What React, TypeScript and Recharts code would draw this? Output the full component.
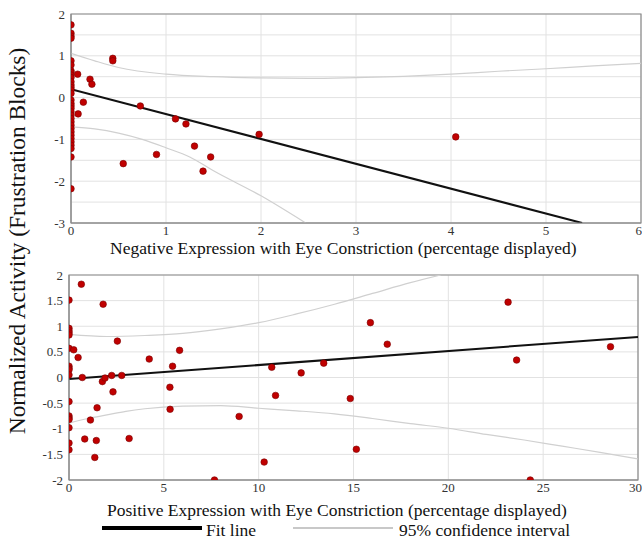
import {
  CartesianGrid,
  ComposedChart,
  Line,
  ReferenceArea,
  Scatter,
  XAxis,
  YAxis,
} from "recharts";

// top panel: negative expression
const negX = [
  0, 0, 0, 0, 0, 0, 0, 0, 0, 0, 0, 0, 0, 0, 0, 0, 0, 0, 0, 0, 0, 0, 0, 0, 0,
  0, 0, 0, 0, 0, 0, 0, 0, 0.07, 0.075, 0.13, 0.2, 0.22, 0.44, 0.44, 0.55,
  0.73, 0.9, 1.1, 1.21, 1.3, 1.39, 1.47, 1.98, 4.05,
];
const negY = [
  1.74, 1.54, 1.47, 1.42, 0.88, 0.78, 0.64, 0.6, 0.54, 0.48, 0.38, 0.3, 0.24,
  0.18, 0.1, -0.06, -0.14, -0.2, -0.26, -0.34, -0.42, -0.5, -0.58, -0.66,
  -0.74, -0.82, -0.9, -0.98, -1.06, -1.14, -1.22, -1.42, -2.18, 0.56, -0.39,
  -0.11, 0.44, 0.32, 0.94, 0.88, -1.58, -0.2, -1.36, -0.51, -0.63, -1.16,
  -1.76, -1.42, -0.88, -0.94,
];
const negFit = [
  { x: 0, y: 0.2 },
  { x: 5.38, y: -3 },
];
const negUpper = [
  { x: 0, y: 1.06 },
  { x: 0.25, y: 0.88 },
  { x: 0.5, y: 0.72 },
  { x: 1, y: 0.56 },
  { x: 1.5, y: 0.5 },
  { x: 2, y: 0.47 },
  { x: 2.5, y: 0.46 },
  { x: 3, y: 0.48 },
  { x: 3.5, y: 0.51 },
  { x: 4, y: 0.56 },
  { x: 4.5, y: 0.63 },
  { x: 5, y: 0.69 },
  { x: 5.5, y: 0.76 },
  { x: 6, y: 0.82 },
];
const negLower = [
  { x: 0, y: -0.7 },
  { x: 0.25, y: -0.75 },
  { x: 0.5, y: -0.85 },
  { x: 0.75, y: -1.0 },
  { x: 1, y: -1.2 },
  { x: 1.25, y: -1.42 },
  { x: 1.5, y: -1.75 },
  { x: 2, y: -2.35 },
  { x: 2.47, y: -3 },
];

// bottom panel: positive expression
const posX = [
  0, 0, 0, 0, 0, 0, 0, 0, 0, 0, 0, 0, 0, 0, 0, 0, 0, 0.65, 0.25, 0.48, 0.7,
  0.83, 1.13, 1.36, 1.44, 1.48, 1.8, 1.76, 1.9, 2.25, 2.32, 2.55, 2.78, 3.17,
  4.23, 5.32, 5.33, 5.46, 5.83, 7.67, 8.97, 10.29, 10.69, 10.89, 12.24, 13.43,
  14.83, 15.15, 15.89, 16.78, 23.15, 23.6, 24.32, 28.55,
];
const posY = [
  1.51, 0.96, 0.91, 0.87, 0.83, 0.57, 0.22, 0.18, 0.15, 0.05, -0.47, -0.75,
  -0.79, -0.82, -0.98, -1.28, -1.41, 1.82, 0.54, 0.39, 0.0, -1.2, -0.83,
  -1.56, -1.23, -0.59, 1.43, -0.08, -0.01, 0.04, -0.28, 0.71, 0.04, -1.19,
  0.36, -0.19, -0.62, 0.22, 0.53, -2.0, -0.76, -1.65, 0.2, -0.35, 0.09, 0.28,
  -0.41, -1.4, 1.07, 0.65, 1.47, 0.34, -2.0, 0.6,
];
const posFit = [
  { x: 0, y: -0.03 },
  { x: 30, y: 0.79 },
];
const posUpper = [
  { x: 0, y: 0.84 },
  { x: 2, y: 0.8 },
  { x: 4, y: 0.82 },
  { x: 6, y: 0.86 },
  { x: 8, y: 0.95 },
  { x: 10, y: 1.07 },
  { x: 12, y: 1.24 },
  { x: 14, y: 1.43 },
  { x: 16, y: 1.64 },
  { x: 18, y: 1.85 },
  { x: 19.6, y: 2.0 },
];
const posLower = [
  { x: 0, y: -0.89 },
  { x: 1, y: -0.8 },
  { x: 2, y: -0.73 },
  { x: 3, y: -0.66 },
  { x: 4, y: -0.61 },
  { x: 6, y: -0.56 },
  { x: 8, y: -0.55 },
  { x: 10, y: -0.6 },
  { x: 12, y: -0.65 },
  { x: 14, y: -0.71 },
  { x: 16, y: -0.8 },
  { x: 18, y: -0.9 },
  { x: 20, y: -0.99 },
  { x: 22, y: -1.11 },
  { x: 24, y: -1.22 },
  { x: 26, y: -1.34 },
  { x: 28, y: -1.46 },
  { x: 30, y: -1.59 },
];

const negXTicks = [0, 1, 2, 3, 4, 5, 6];
const negYTicks = [-3, -2.5, -2, -1.5, -1, -0.5, 0, 0.5, 1, 1.5, 2];
const posXTicks = [0, 5, 10, 15, 20, 25, 30];
const posYTicks = [-2, -1.5, -1, -0.5, 0, 0.5, 1, 1.5, 2];

const font = "'Liberation Serif', 'Times New Roman', serif";
const tickStyle = { fontSize: 13, fill: "#333", fontFamily: font };
const ciColor = "#d0d0d0";
const boxColor = "#8a8a8a";

function Dot(props: any) {
  const { cx, cy } = props;
  if (cx == null || cy == null) return null;
  return <circle cx={cx} cy={cy} r={3.3} fill="#c00000" stroke="#7a0000" strokeWidth={0.6} />;
}

function toPoints(xs: number[], ys: number[]) {
  return xs.map((x, i) => ({ x, y: ys[i] }));
}

function Panel(props: {
  width: number;
  height: number;
  left: number;
  right: number;
  points: { x: number; y: number }[];
  fit: { x: number; y: number }[];
  upper: { x: number; y: number }[];
  lower: { x: number; y: number }[];
  xDomain: [number, number];
  yDomain: [number, number];
  xTicks: number[];
  yTicks: number[];
  integerLabels: boolean;
}) {
  const p = props;
  return (
    <ComposedChart
      width={p.width}
      height={p.height}
      margin={{ top: 14, right: p.right, bottom: 0, left: 0 }}
    >
      <CartesianGrid stroke="#e2e2e2" strokeWidth={1} />
      <XAxis
        type="number"
        dataKey="x"
        domain={p.xDomain}
        ticks={p.xTicks}
        allowDataOverflow
        height={20}
        tick={tickStyle}
        tickLine={false}
        tickSize={1}
        axisLine={{ stroke: boxColor }}
      />
      <YAxis
        type="number"
        dataKey="y"
        domain={p.yDomain}
        ticks={p.yTicks}
        allowDataOverflow
        width={p.left}
        tick={tickStyle}
        tickLine={false}
        tickSize={4}
        tickFormatter={(v: number) =>
          p.integerLabels && !Number.isInteger(v) ? "" : String(v)
        }
        axisLine={{ stroke: boxColor }}
      />
      <ReferenceArea
        x1={p.xDomain[0]}
        x2={p.xDomain[1]}
        y1={p.yDomain[0]}
        y2={p.yDomain[1]}
        fill="none"
        stroke={boxColor}
        strokeWidth={1.2}
        ifOverflow="visible"
      />
      <Line
        data={p.upper}
        dataKey="y"
        type="monotone"
        stroke={ciColor}
        strokeWidth={1.2}
        dot={false}
        isAnimationActive={false}
      />
      <Line
        data={p.lower}
        dataKey="y"
        type="monotone"
        stroke={ciColor}
        strokeWidth={1.2}
        dot={false}
        isAnimationActive={false}
      />
      <Line
        data={p.fit}
        dataKey="y"
        type="linear"
        stroke="#111"
        strokeWidth={2}
        dot={false}
        isAnimationActive={false}
      />
      <Scatter data={p.points} shape={<Dot />} isAnimationActive={false} />
    </ComposedChart>
  );
}

export default function App() {
  return (
    <div
      style={{
        position: "absolute",
        left: 0,
        top: 0,
        width: 642,
        height: 539,
        background: "#fff",
        fontFamily: font,
        color: "#111",
      }}
    >
      <div style={{ position: "absolute", left: 0, top: 0 }}>
        <Panel
          width={642}
          height={243}
          left={71}
          right={1}
          points={toPoints(negX, negY)}
          fit={negFit}
          upper={negUpper}
          lower={negLower}
          xDomain={[0, 6]}
          yDomain={[-3, 2]}
          xTicks={negXTicks}
          yTicks={negYTicks}
          integerLabels
        />
      </div>
      <div style={{ position: "absolute", left: 0, top: 261 }}>
        <Panel
          width={642}
          height={239}
          left={69}
          right={4}
          points={toPoints(posX, posY)}
          fit={posFit}
          upper={posUpper}
          lower={posLower}
          xDomain={[0, 30]}
          yDomain={[-2, 2]}
          xTicks={posXTicks}
          yTicks={posYTicks}
          integerLabels={false}
        />
      </div>
      <div
        style={{
          position: "absolute",
          left: 110,
          top: 238,
          fontSize: 17.5,
          lineHeight: "20px",
          whiteSpace: "nowrap",
        }}
      >
        Negative Expression with Eye Constriction (percentage displayed)
      </div>
      <div
        style={{
          position: "absolute",
          left: 107,
          top: 500,
          fontSize: 17.5,
          lineHeight: "20px",
          whiteSpace: "nowrap",
        }}
      >
        Positive Expression with Eye Constriction (percentage displayed)
      </div>
      <div
        style={{
          position: "absolute",
          left: 17,
          top: 241,
          transform: "translate(-50%, -50%) rotate(-90deg)",
          fontSize: 23.4,
          whiteSpace: "nowrap",
        }}
      >
        Normalized Activity (Frustration Blocks)
      </div>
      <div
        style={{
          position: "absolute",
          left: 102,
          top: 526,
          width: 100,
          height: 4,
          background: "#000",
        }}
      />
      <div
        style={{
          position: "absolute",
          left: 206,
          top: 520,
          fontSize: 17.5,
          lineHeight: "20px",
        }}
      >
        Fit line
      </div>
      <div
        style={{
          position: "absolute",
          left: 293,
          top: 527,
          width: 100,
          height: 2,
          background: "#c8c8c8",
        }}
      />
      <div
        style={{
          position: "absolute",
          left: 399,
          top: 520,
          fontSize: 17.5,
          lineHeight: "20px",
          whiteSpace: "nowrap",
        }}
      >
        95% confidence interval
      </div>
    </div>
  );
}
